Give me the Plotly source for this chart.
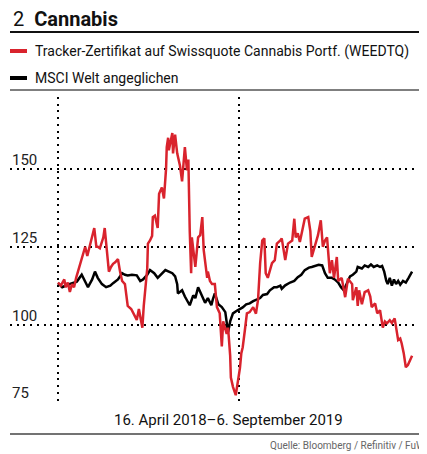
import pandas as pd
import plotly.graph_objects as go

start_date = "2018-04-16"

# Tracker-Zertifikat (WEEDTQ): days since start, indexed value
red_days = [0, 4, 9, 11, 14, 17, 20, 23, 26, 30, 34, 39, 42, 46, 49, 52, 55, 57, 60, 65, 67,
            70, 73, 76, 79, 82, 86, 89, 92, 96, 100, 105, 108, 113, 116, 119, 121, 123, 125,
            128, 129, 132, 135, 136, 139, 141, 143, 145, 149, 152, 155, 156, 158, 159, 164,
            165, 168, 171, 175, 178, 182, 185, 187, 189, 191, 192, 195, 197, 201, 204, 207,
            209, 214, 215, 218, 221, 225, 228, 232, 235, 237, 240, 242, 244, 247, 248, 251,
            255, 258, 261, 263, 265, 268, 271, 275, 280, 284, 287, 290, 293, 296, 298, 301,
            304, 307, 311, 314, 319, 321, 326, 330, 336, 339, 341, 344, 347, 350, 354, 359,
            362, 364, 369, 373, 377, 380, 383, 386, 390, 393, 396, 400, 402, 407, 412, 416,
            422, 423, 428, 430, 432, 436, 440, 445, 448, 450, 455, 458, 462, 466, 469, 472,
            476, 479, 483, 488, 491, 493, 496, 499, 502, 505, 508]
red_vals = [113.5, 112.5, 114.5, 112, 113.5, 110.5, 113, 112, 115, 118, 121, 125, 122, 126, 128,
            131, 125, 125, 124.5, 128, 131, 125, 117, 118.5, 119.5, 120, 121, 117, 114, 113,
            106, 105, 103.5, 101.5, 105, 102, 99, 106, 110, 118, 126, 127, 128.5, 134.5, 135,
            133, 131, 142, 144, 140.5, 150, 157, 160, 156, 161.5, 155, 161, 155, 151, 146, 157,
            149.5, 153, 130, 116.5, 128, 121, 118.5, 128, 128.7, 134.5, 124, 115, 117, 114,
            113, 113, 105.6, 103.6, 93, 101, 99, 97, 99, 90, 83, 80, 77.3, 81, 86, 90.8, 92.7,
            98, 103.6, 104, 105.6, 103.5, 108, 119.7, 127, 127.7, 116.5, 115, 117.5, 119.7,
            120.7, 126, 127, 127.7, 120.7, 126, 127, 134, 128, 129.3, 126.5, 130, 134, 134.5,
            130, 121.7, 126, 128.7, 133.5, 125, 127, 128, 116.5, 120.7, 115, 121.7, 114, 115,
            108.8, 114.7, 113, 107.8, 112, 106, 111, 106.5, 110.4, 111, 109, 105.6, 106.8,
            103.6, 104.6, 99, 101, 100.4, 101.4, 100.5, 102, 95, 95.5, 94, 90.8, 86.3, 87,
            88.5, 90]

# MSCI Welt angeglichen: days since start, indexed value
black_days = [0, 6, 13, 20, 27, 34, 39, 43, 49, 53, 57, 63, 69, 75, 79, 86, 92, 96, 100, 106,
              113, 118, 122, 128, 132, 138, 143, 149, 154, 159, 164, 168, 171, 172, 178, 182,
              185, 189, 194, 197, 201, 204, 207, 211, 215, 220, 222, 225, 230, 235, 240, 244,
              247, 251, 257, 261, 265, 270, 275, 280, 286, 290, 294, 300, 304, 310, 314, 319,
              321, 326, 333, 339, 344, 349, 354, 360, 364, 370, 374, 379, 383, 387, 393, 397,
              402, 406, 410, 415, 419, 423, 428, 430, 436, 440, 445, 449, 453, 458, 462, 465,
              468, 471, 473, 476, 479, 482, 485, 488, 491, 495, 499, 503, 508]
black_vals = [113.3, 112, 112.7, 113.3, 113.8, 116, 114, 112, 114.5, 117, 115, 113, 112, 112.5,
              113.3, 114.5, 116.5, 116, 115.8, 116, 115.8, 114, 114.5, 116, 117.5, 116.5, 115,
              116.5, 117.5, 117, 116.5, 115.5, 113, 110, 111, 109, 107.8, 106.2, 109.4, 108.5,
              112, 110.5, 109.5, 107, 108.5, 106.2, 108, 110, 106.5, 105.6, 104, 97.5, 101,
              103.6, 104.5, 105, 105.5, 106.5, 106.8, 107.5, 108, 108.5, 109.5, 109.8, 111, 112,
              112, 112.5, 111.5, 112.6, 113.5, 114, 115.2, 116, 117.5, 118.3, 118.5, 118.8,
              119.2, 119, 116.5, 115, 115, 114.5, 113.5, 112, 111, 113.5, 115.5, 116, 117,
              118.5, 118, 119, 118.5, 119.3, 118.5, 119, 118.5, 118.8, 117, 114, 113, 115,
              112.5, 114.5, 113, 114, 112.8, 114, 113.5, 115, 117]

y_ticks = [75, 100, 125, 150]

font_main = "Roboto, Liberation Sans, sans-serif"
RED = "#d9232d"

t0 = pd.Timestamp(start_date)
red_x = t0 + pd.to_timedelta(red_days, unit="D")
black_x = t0 + pd.to_timedelta(black_days, unit="D")

fig = go.Figure()
fig.add_trace(go.Scatter(x=black_x, y=black_vals, mode="lines",
                         line=dict(color="#000000", width=2.5), name="MSCI Welt angeglichen"))
fig.add_trace(go.Scatter(x=red_x, y=red_vals, mode="lines",
                         line=dict(color=RED, width=2.5),
                         name="Tracker-Zertifikat auf Swissquote Cannabis Portf. (WEEDTQ)"))

x_lo = t0 + pd.Timedelta(days=-68.9)
x_hi = t0 + pd.Timedelta(days=529.4)

dash = "2px,4.7px"
fig.update_xaxes(range=[x_lo, x_hi], showticklabels=False, ticks="",
                 tickvals=[t0, pd.Timestamp("2019-01-01")],
                 showgrid=True, gridcolor="#000000", gridwidth=2, griddash=dash,
                 zeroline=False, showline=False)
fig.update_yaxes(range=[74.8, 173.1], showticklabels=False, ticks="",
                 tickvals=y_ticks, showgrid=True, gridcolor="#000000", gridwidth=2,
                 griddash=dash, zeroline=False, showline=False)

annotations = []
for v in y_ticks:
    annotations.append(dict(x=0, xref="paper", y=v, yref="y", text=str(v),
                            xanchor="left", yanchor="bottom", showarrow=False, yshift=-2,
                            font=dict(family=font_main, size=15, color="#222222")))

# Title
annotations.append(dict(x=0.003, xref="paper", y=1.256, yref="paper",
                        text="2  <b>Cannabis</b>", xanchor="left", yanchor="middle",
                        showarrow=False, font=dict(family=font_main, size=20, color="#111111")))
# Legend texts
annotations.append(dict(x=0.0552, xref="paper", y=1.1503, yref="paper",
                        text="Tracker-Zertifikat auf Swissquote Cannabis Portf. (WEEDTQ)",
                        xanchor="left", yanchor="middle", showarrow=False,
                        font=dict(family=font_main, size=14, color="#111111")))
annotations.append(dict(x=0.0552, xref="paper", y=1.0621, yref="paper",
                        text="MSCI Welt angeglichen",
                        xanchor="left", yanchor="middle", showarrow=False,
                        font=dict(family=font_main, size=14, color="#111111")))
# Period label
annotations.append(dict(x=0.524, xref="paper", y=-0.0556, yref="paper",
                        text="16. April 2018–6. September 2019",
                        xanchor="center", yanchor="middle", showarrow=False,
                        font=dict(family=font_main, size=15, color="#111111")))
# Source
annotations.append(dict(x=1.0, xref="paper", y=-0.1405, yref="paper",
                        text="Quelle: Bloomberg / Refinitiv / FuW",
                        xanchor="right", yanchor="middle", showarrow=False,
                        font=dict(family=font_main, size=10, color="#666666")))

shapes = [
    dict(type="line", xref="paper", yref="paper", x0=0, x1=1, y0=1.2124, y1=1.2124,
         line=dict(color="#111111", width=2)),
    dict(type="line", xref="paper", yref="paper", x0=0, x1=0.0408, y0=1.1503, y1=1.1503,
         line=dict(color=RED, width=4)),
    dict(type="line", xref="paper", yref="paper", x0=0, x1=0.0408, y0=1.0621, y1=1.0621,
         line=dict(color="#000000", width=4)),
    dict(type="line", xref="paper", yref="paper", x0=0, x1=1, y0=1.0229, y1=1.0229,
         line=dict(color="#555555", width=1.5)),
    dict(type="line", xref="paper", yref="paper", x0=0, x1=1, y0=-0.1013, y1=-0.1013,
         line=dict(color="#444444", width=1.5)),
]

# page body adds an 8px offset; figure sized so it ends at the window edge
fig.update_layout(width=419, height=446, margin=dict(l=2, r=0, t=89, b=51),
                  paper_bgcolor="white", plot_bgcolor="white", showlegend=False,
                  annotations=annotations, shapes=shapes)

fig.write_html("out.html")
